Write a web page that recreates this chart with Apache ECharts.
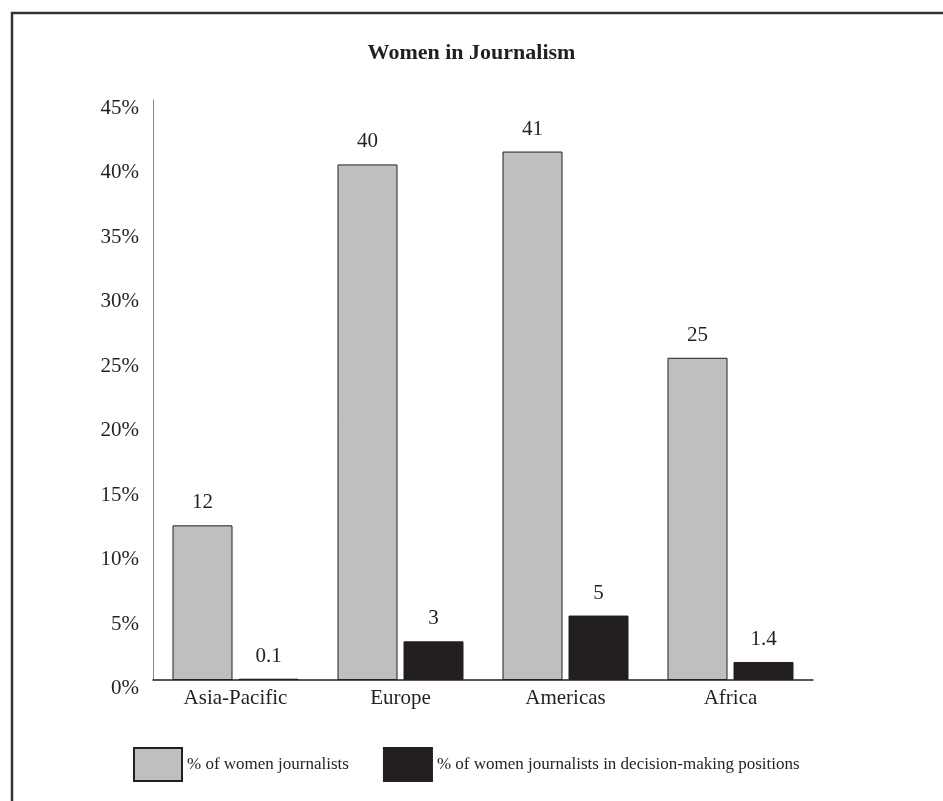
<!DOCTYPE html>
<html>
<head>
<meta charset="utf-8">
<script src="https://cdn.jsdelivr.net/npm/echarts@6/dist/echarts.min.js"></script>
<style>
  html, body { margin: 0; padding: 0; background: #fff; }
  #chart { width: 943px; height: 801px; }
</style>
</head>
<body>
<div id="chart"></div>
<script>
var regions = ['Asia-Pacific', 'Europe', 'Americas', 'Africa'];
var womenJournalists = [12, 40, 41, 25];
var womenDecisionMaking = [0.1, 3, 5, 1.4];
var womenJournalistsLabels = ['12', '40', '41', '25'];
var womenDecisionLabels = ['0.1', '3', '5', '1.4'];
var seriesNames = ['% of women journalists', '% of women journalists in decision-making positions'];

var serif = '"Liberation Serif", "DejaVu Serif", serif';
var chartDom = document.getElementById('chart');
var chart = echarts.init(chartDom);

function labelFor(texts) {
  return {
    show: true,
    position: 'top',
    distance: 12,
    fontFamily: serif,
    fontSize: 21,
    color: '#231f20',
    formatter: function (p) { return texts[p.dataIndex]; }
  };
}

var option = {
  backgroundColor: '#fff',
  animation: false,
  title: {
    text: 'Women in Journalism',
    left: 'center',
    top: 37,
    textStyle: {
      fontFamily: serif,
      fontSize: 22,
      fontWeight: 'bold',
      color: '#231f20'
    }
  },
  graphic: [{
    type: 'rect',
    shape: { x: 12, y: 13, width: 945, height: 800 },
    style: { fill: 'none', stroke: '#333', lineWidth: 2.5 },
    silent: true
  }],
  legend: {
    left: 128,
    top: 742,
    icon: 'rect',
    itemWidth: 48,
    itemHeight: 33,
    itemGap: 34,
    data: seriesNames,
    textStyle: {
      fontFamily: serif,
      fontSize: 17,
      color: '#231f20'
    }
  },
  grid: {
    left: 153,
    top: 100,
    width: 660,
    height: 580
  },
  xAxis: {
    type: 'category',
    data: regions,
    axisTick: { show: false },
    axisLine: { lineStyle: { color: '#231f20', width: 1.5 } },
    axisLabel: {
      margin: 8,
      fontFamily: serif,
      fontSize: 21,
      color: '#231f20'
    }
  },
  yAxis: {
    type: 'value',
    min: 0,
    max: 45,
    interval: 5,
    splitLine: { show: false },
    axisTick: { show: false },
    axisLine: { show: true, lineStyle: { color: '#888', width: 1 } },
    axisLabel: {
      margin: 14,
      formatter: function (v) { return '{t|' + v + '%}'; },
      rich: {
        t: {
          padding: [17, 0, 0, 0],
          fontFamily: serif,
          fontSize: 21,
          color: '#231f20'
        }
      }
    }
  },
  series: [{
    name: seriesNames[0],
    type: 'bar',
    data: womenJournalists,
    barWidth: 60,
    barGap: '10%',
    itemStyle: { color: '#bebfc1', borderColor: '#231f20', borderWidth: 1 },
    label: labelFor(womenJournalistsLabels)
  }, {
    name: seriesNames[1],
    type: 'bar',
    data: womenDecisionMaking,
    barWidth: 60,
    itemStyle: { color: '#231f20', borderColor: '#231f20', borderWidth: 1 },
    label: labelFor(womenDecisionLabels)
  }]
};

chart.setOption(option);
</script>
</body>
</html>
